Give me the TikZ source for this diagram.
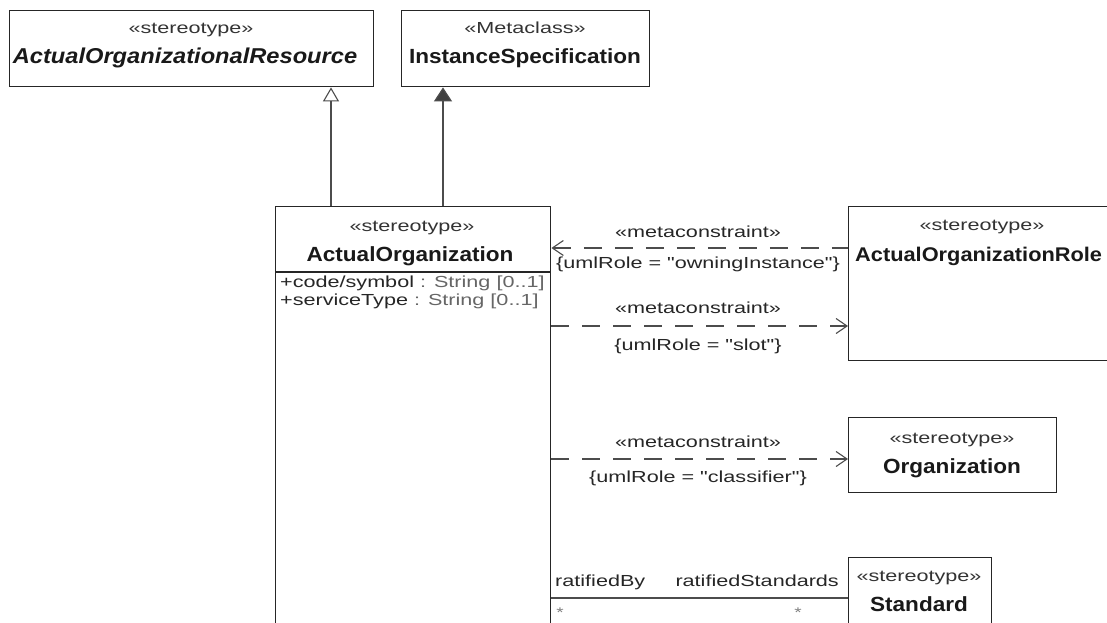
\documentclass[tikz,border=0pt]{standalone}
\usepackage{fontspec}
\setmainfont{Liberation Sans}
\newfontfamily\stf[FakeStretch=1.35]{Liberation Sans}
\newfontfamily\nmf[FakeStretch=1.1]{Liberation Sans}
\usetikzlibrary{arrows.meta}
\tikzset{
  box/.style={draw=black!85, line width=1.4pt, fill=white, inner sep=0pt, anchor=north west},
  stt/.style={font={\stf\fontsize{16}{18}\selectfont}, text=black!80, inner sep=0pt, anchor=base},
  lab/.style={font={\stf\fontsize{16}{18}\selectfont}, text=black!85, inner sep=0pt, anchor=base},
  nm/.style={font={\nmf\bfseries\fontsize{20.5}{23}\selectfont}, text=black!90, inner sep=0pt, anchor=base},
  conn/.style={draw=black!70, line width=1.2pt},
  dep/.style={conn, dash pattern=on 18pt off 13pt},
  barb/.tip={Straight Barb[length=11pt, width=15pt, line width=1.1pt]},
  starl/.style={font={\stf\fontsize{14}{14}\selectfont}, text=black!50, inner sep=0pt, anchor=base}
}
\begin{document}
\begin{tikzpicture}[x=1pt,y=-1pt]
\useasboundingbox (0,0) rectangle (1107,623);
\fill[white] (0,0) rectangle (1107,623);
\clip (0,0) rectangle (1107,623);

% boxes
\node[box, minimum width=364pt, minimum height=76pt] (aor) at (9,10) {};
\node[box, minimum width=248pt, minimum height=76pt] (is) at (401,10) {};
\node[box, minimum width=275pt, minimum height=440pt] (ao) at (275,206) {};
\node[box, minimum width=266pt, minimum height=154pt] (role) at (848,206) {};
\node[box, minimum width=208pt, minimum height=75pt] (org) at (848,417) {};
\node[box, minimum width=143pt, minimum height=80pt] (std) at (848,557) {};

% divider
\coordinate (dv) at (0,272);
\draw[draw=black!85, line width=1.4pt] (ao.west |- dv) -- (ao.east |- dv);

% texts
\node[stt] (aors) at (191,34) {«stereotype»};
\node[nm, font={\nmf\bfseries\itshape\fontsize{21.5}{24}\selectfont}] (aorn) at (185,64) {ActualOrganizationalResource};
\node[stt] (iss) at (525,34) {«Metaclass»};
\node[nm] (isn) at (525,64) {InstanceSpecification};
\node[stt] (aos) at (412,231) {«stereotype»};
\node[nm] (aon) at (410,261) {ActualOrganization};
\node[lab, anchor=base west] (at1) at (280,287) {+code/symbol {\color{black!60}: String [0..1]}};
\node[lab, anchor=base west] (at2) at (280,305) {+serviceType {\color{black!60}: String [0..1]}};
\node[stt] (roles) at (982,230) {«stereotype»};
\node[nm, anchor=base west, font={\nmf\bfseries\fontsize{19.8}{23}\selectfont}] (rolen) at (855,261) {ActualOrganizationRole};
\node[stt] (orgs) at (952,443) {«stereotype»};
\node[nm] (orgn) at (952,473) {Organization};
\node[stt] (stds) at (919,581) {«stereotype»};
\node[nm] (stdn) at (919,611) {Standard};

% generalizations
\coordinate (g1) at (331,0);
\coordinate (g2) at (443,0);
\draw[conn, -{Triangle[open, length=14pt, width=16pt, line width=1.1pt]}] (ao.north -| g1) -- (aor.south -| g1);
\draw[conn, -{Triangle[length=14pt, width=18pt, fill=black!75]}] (ao.north -| g2) -- (is.south -| g2);

% dependencies
\coordinate (l1) at (0,248);
\coordinate (l2) at (0,326);
\coordinate (l3) at (0,459);
\coordinate (l4) at (0,598);
\draw[dep, barb-] (ao.east |- l1) -- (role.west |- l1);
\draw[dep, -barb] (ao.east |- l2) -- (role.west |- l2);
\draw[dep, -barb] (ao.east |- l3) -- (org.west |- l3);
\draw[conn] (ao.east |- l4) -- (std.west |- l4);

\node[lab] (m1) at (698,237) {«metaconstraint»};
\node[lab] (u1) at (698,268) {\{umlRole = "owningInstance"\}};
\node[lab] (m2) at (698,313) {«metaconstraint»};
\node[lab] (u2) at (698,350) {\{umlRole = "slot"\}};
\node[lab] (m3) at (698,447) {«metaconstraint»};
\node[lab] (u3) at (698,482) {\{umlRole = "classifier"\}};

\node[lab, anchor=base west] (r1) at (555,586) {ratifiedBy};
\node[lab, anchor=base east] (r2) at (839,586) {ratifiedStandards};
\node[starl] (s1) at (560,617) {*};
\node[starl] (s2) at (798,617) {*};
\end{tikzpicture}
\end{document}
